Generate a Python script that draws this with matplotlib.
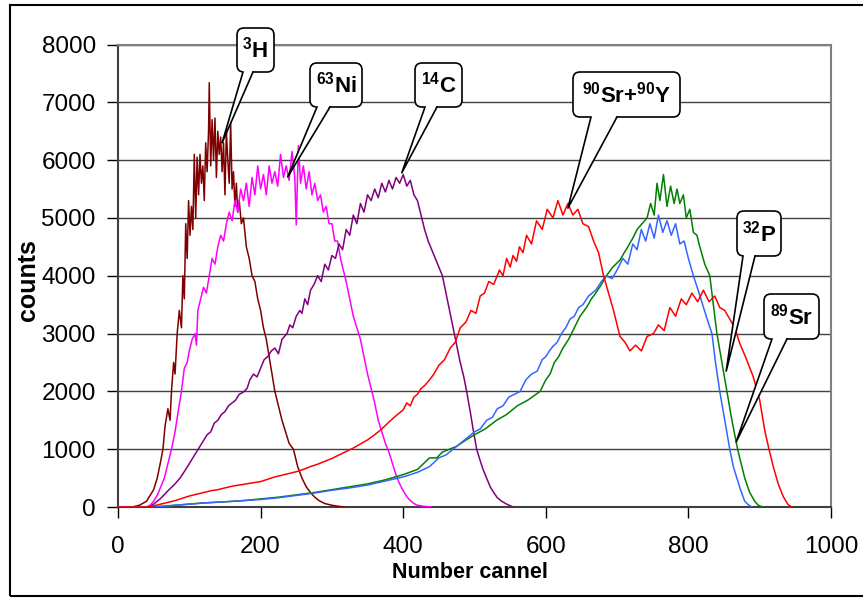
import matplotlib
matplotlib.use("Agg")
import matplotlib.pyplot as plt
from matplotlib.patches import FancyBboxPatch, Rectangle, Polygon
from matplotlib.lines import Line2D
from matplotlib.transforms import IdentityTransform

plt.rcParams['font.family'] = ['Liberation Sans', 'DejaVu Sans']
plt.rcParams['mathtext.fontset'] = 'custom'
plt.rcParams['mathtext.rm'] = 'Liberation Sans'
plt.rcParams['mathtext.bf'] = 'Liberation Sans:bold'

# ---------------- data (channel, counts) ----------------
h3_x = [0,20,30,40,50,55,60,63,66,70,73,75,78,80,83,86,89,91,93,95,97,99,101,103,105,107,109,111,113,115,
        117,119,121,123,125,127,128,130,132,134,136,138,140,142,144,146,148,150,152,154,156,158,160,162,164,166,
        168,170,173,176,180,184,188,192,196,200,204,208,212,216,220,225,230,235,240,246,252,258,264,270,276,282,
        290,300,310,318]
h3_y = [0,0,30,100,300,500,800,1000,1400,1700,1500,2000,2500,2300,3000,3400,3100,4000,3600,4900,4300,5300,4700,
        5200,4800,6100,5000,6050,5400,6100,5600,5900,5300,6300,5800,6500,7340,5900,6700,6000,6730,5700,6500,6100,
        6400,5800,6300,5400,6500,6000,5600,6650,5500,5800,5200,5600,5100,5300,4900,5000,4500,4300,4000,3900,3600,
        3400,3100,2900,2600,2300,2000,1750,1500,1300,1100,1000,700,500,350,250,170,110,60,30,10,0]

ni63_x = [0,40,45,50,55,60,65,70,75,80,85,89,93,97,100,104,108,110,112,116,120,124,128,132,136,140,144,148,152,
          156,160,164,168,172,176,180,184,188,192,196,200,204,208,212,216,220,224,228,232,236,240,244,248,250,253,
          256,260,264,268,272,276,280,284,288,292,296,300,304,308,312,316,320,325,330,335,340,345,350,355,360,365,
          370,375,380,385,390,395,400,405,410,415,420,430,440]
ni63_y = [0,0,30,100,200,350,500,750,1000,1300,1700,2000,2400,2500,2700,2900,3000,2800,3400,3600,3800,3700,4000,
          4300,4200,4500,4700,4600,4900,5100,4950,5300,5100,5500,5300,5600,5200,5700,5400,5900,5500,5750,5400,5900,
          5600,5800,5550,6100,5700,5900,5650,6150,5700,4880,6250,5600,5900,5500,5800,5400,5600,5300,5400,5100,5200,
          4900,4900,4600,4600,4300,4100,3900,3600,3300,3100,2900,2600,2300,2050,1800,1500,1300,1100,950,750,550,400,
          280,180,110,60,30,10,0]

c14_x = [0,40,45,50,60,70,80,87,95,100,105,110,115,120,125,130,135,140,145,150,155,160,165,170,175,181,185,190,
         195,200,205,210,215,220,225,230,237,241,245,250,255,258,262,266,270,275,280,285,290,295,300,305,310,315,
         320,325,330,335,340,345,350,355,360,365,370,375,380,385,390,395,400,405,410,415,420,426,430,435,440,445,
         450,455,460,465,470,475,480,485,489,494,498,503,508,512,517,522,527,532,538,545,554]
c14_y = [0,0,10,50,150,280,400,500,650,750,850,950,1050,1150,1250,1300,1450,1500,1600,1650,1750,1800,1850,1950,
         1980,2050,2200,2300,2250,2400,2550,2600,2700,2750,2650,2900,3000,3150,3100,3300,3400,3350,3600,3500,3750,
         3850,4000,3900,4200,4100,4350,4300,4550,4450,4800,4700,5050,4900,5250,5100,5400,5300,5500,5350,5600,5450,
         5650,5500,5700,5600,5750,5550,5650,5400,5300,5000,4800,4600,4450,4300,4150,4000,3700,3400,3100,2800,2500,
         2250,2000,1650,1350,1000,800,650,500,350,250,160,100,50,0]

sry_x = [0,40,50,60,70,80,90,100,110,120,130,140,150,160,170,180,190,200,210,220,230,240,250,260,270,280,290,
         300,310,320,330,340,350,360,370,380,390,400,405,410,415,420,425,430,437,443,450,458,466,473,480,488,495,
         502,508,514,520,527,535,540,545,550,554,559,563,568,573,580,587,595,602,610,617,624,631,638,645,652,660,
         667,674,681,688,695,704,711,718,726,734,742,751,758,766,774,782,790,797,805,813,821,829,837,844,851,858,
         865,872,880,891,900,907,913,919,926,933,940,945]
sry_y = [0,0,20,50,80,110,150,190,220,250,280,300,330,360,380,400,420,440,480,520,550,580,610,650,700,740,790,
         840,900,960,1020,1090,1160,1250,1350,1470,1580,1680,1800,1750,1900,1950,2050,2100,2200,2300,2450,2550,
         2750,2850,3100,3200,3400,3350,3650,3700,3900,3850,4100,4000,4300,4150,4350,4250,4500,4400,4700,4550,4950,
         4800,5150,5000,5300,5050,5250,5050,5150,4900,4850,4600,4400,4000,3700,3400,2950,2850,2700,2800,2700,2950,
         3000,3150,3050,3450,3300,3600,3500,3700,3550,3750,3550,3650,3450,3400,3250,3100,2830,2600,2250,1850,1330,
         1000,700,400,180,40,0]

sr89_x = [0,50,60,80,100,120,150,175,200,225,250,275,300,325,350,375,400,420,437,450,460,470,480,490,500,508,
          517,525,532,540,548,556,564,572,580,588,595,600,605,610,616,622,628,634,640,646,652,660,670,678,685,693,
          700,708,715,722,728,734,740,746,752,758,764,770,776,782,788,794,800,807,815,825,833,838,844,851,858,863,
          868,873,879,884,889]
sr89_y = [0,0,10,30,50,70,90,110,130,160,200,240,290,330,380,450,520,600,700,850,900,1000,1100,1200,1300,1350,
          1500,1550,1700,1750,1900,1950,2000,2200,2300,2350,2550,2600,2700,2780,2850,3000,3100,3250,3300,3450,3500,
          3650,3750,3900,4000,3950,4100,4300,4200,4550,4450,4800,4600,4900,4650,5050,4750,4950,4700,4900,4550,4600,
          4300,4000,3700,3300,3000,2500,2000,1500,1000,700,500,300,100,40,0]

p32_x = [0,50,60,80,100,120,150,175,200,225,250,275,300,325,350,375,400,420,437,447,455,465,475,487,500,515,531,
         545,560,575,592,600,606,612,618,624,632,640,648,657,664,670,678,685,694,704,710,715,722,728,735,742,747,
         752,756,760,765,770,775,780,784,788,793,797,802,807,812,816,823,830,835,840,847,854,861,869,874,879,886,
         893,898,904]
p32_y = [0,0,10,30,50,70,90,110,140,170,210,250,300,350,400,470,560,650,850,850,950,1000,1050,1150,1250,1350,
         1500,1600,1750,1850,2000,2200,2300,2500,2600,2750,2900,3100,3300,3450,3600,3700,3850,4000,4150,4270,4400,
         4500,4650,4800,4900,5000,5250,5050,5600,5300,5750,5200,5550,5250,5500,5250,5400,5000,5150,4750,4700,4500,
         4200,4000,3500,3000,2500,2000,1500,1000,750,500,250,100,30,0]

x_ticks = [0, 200, 400, 600, 800, 1000]
y_ticks = [0, 1000, 2000, 3000, 4000, 5000, 6000, 7000, 8000]
x_label = "Number cannel"
y_label = "counts"

# callouts: label, tip (channel, counts)
callout_labels = [r"$\mathbf{^{3}H}$", r"$\mathbf{^{63}Ni}$", r"$\mathbf{^{14}C}$",
                  r"$\mathbf{^{90}Sr{+}^{90}Y}$", r"$\mathbf{^{32}P}$", r"$\mathbf{^{89}Sr}$"]
callout_tips = [(146, 6300), (238, 5710), (398, 5780), (631, 5170), (853, 2350), (867, 1125)]

# ---------------- figure ----------------
W, H = 863, 598
fig = plt.figure(figsize=(W / 100, H / 100), dpi=100)
fig.patch.set_facecolor('white')

def fx(px):
    return px / W

def fy(py):
    return 1 - py / H

ax = fig.add_axes([fx(118), fy(507), fx(831) - fx(118), fy(44.5) - fy(507)])

series = [
    (h3_x, h3_y, '#800000'),
    (ni63_x, ni63_y, '#FF00FF'),
    (c14_x, c14_y, '#800080'),
    (p32_x, p32_y, '#008000'),
    (sr89_x, sr89_y, '#3366FF'),
    (sry_x, sry_y, '#FF0000'),
]
for xs, ys, col in series:
    ax.plot(xs, ys, color=col, lw=1.1, zorder=3)

ax.set_xlim(0, 1000)
ax.set_ylim(0, 8000)
ax.set_xticks(x_ticks)
ax.set_yticks(y_ticks)
ax.set_xticklabels([str(v) for v in x_ticks])
ax.set_yticklabels([str(v) for v in y_ticks])
ax.tick_params(axis='x', direction='out', length=8, width=1, pad=13, labelsize=17.5)
ax.tick_params(axis='y', direction='out', length=8, width=1, pad=8, labelsize=17.5)
ax.yaxis.grid(True, color='#404040', lw=1)
ax.set_axisbelow(True)
for s in ['top', 'right']:
    ax.spines[s].set_color('#808080')
    ax.spines[s].set_linewidth(1.5)
ax.spines['left'].set_color('#404040')
ax.spines['bottom'].set_color('#404040')
ax.spines['left'].set_linewidth(1.5)
ax.spines['bottom'].set_linewidth(1.5)

ax.set_xlabel(x_label, fontsize=15.5, fontweight='bold')
ax.set_ylabel(y_label, fontsize=18, fontweight='bold')
ax.xaxis.set_label_coords(0.494, -0.118)
ax.yaxis.set_label_coords(-0.110, 0.49)

# outer chart border
fig.patches.append(Rectangle((10, H - 596), W, 591, transform=IdentityTransform(),
                             fill=False, edgecolor='black', lw=1.5, zorder=0))

# callout boxes (pixel layout: left, top, right, bottom, wedge base x1, x2)
boxes = [
    (237, 28, 274, 72, 243, 253),
    (310, 63, 362, 107, 317, 330),
    (415, 63, 462, 107, 425, 437),
    (573, 72, 680, 117, 591, 617),
    (737, 211, 781, 256, 743, 755),
    (764, 294, 819, 339, 772, 787),
]
fig.canvas.draw()
for lab, tip, (l, t, r, b, b1, b2) in zip(callout_labels, callout_tips, boxes):
    tx, ty = ax.transData.transform(tip)
    yb = H - b
    box = FancyBboxPatch((l, yb), r - l, b - t, boxstyle="round,pad=0,rounding_size=7",
                         transform=IdentityTransform(), facecolor='white', edgecolor='black',
                         lw=1.2, zorder=20)
    fig.patches.append(box)
    wedge = Polygon([(b1, yb + 2), (tx, ty), (b2, yb + 2)], closed=True,
                    transform=IdentityTransform(), facecolor='white', edgecolor='none', zorder=21)
    fig.patches.append(wedge)
    fig.lines.append(Line2D([b1, tx, b2], [yb, ty, yb], transform=IdentityTransform(),
                            color='black', lw=1.2, zorder=22))
    fig.text((l + r) / 2 / W, 1 - (t + b) / 2 / H, lab, ha='center', va='center',
             fontsize=16, zorder=23)

fig.savefig('out.png', dpi=100)
